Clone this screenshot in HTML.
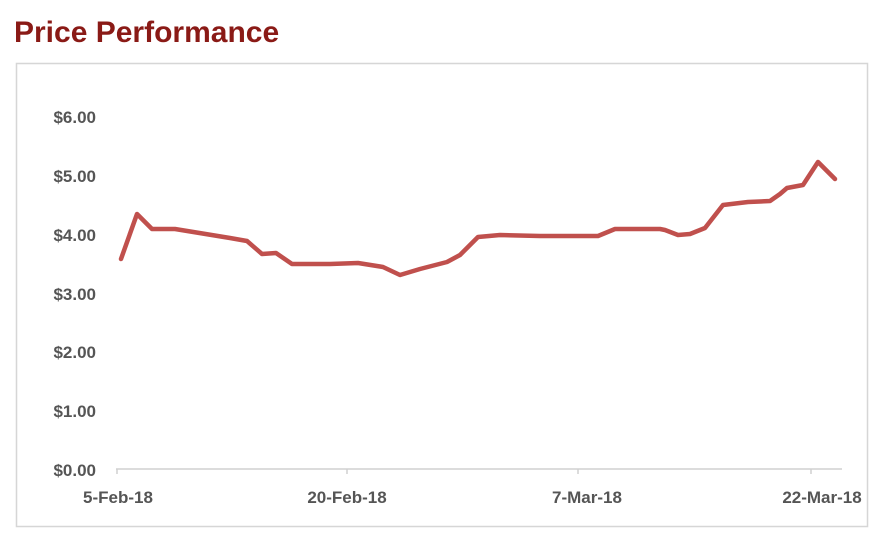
<!DOCTYPE html>
<html><head><style>
body{margin:0;background:#fff;width:896px;height:551px;overflow:hidden;font-family:"Liberation Sans",sans-serif}
</style></head><body>
<svg width="896" height="551" xmlns="http://www.w3.org/2000/svg">
<text x="14" y="42" font-size="30" font-weight="bold" fill="#8a1a16" font-family="Liberation Sans, sans-serif">Price Performance</text>
<rect x="16.5" y="63.5" width="851" height="463" fill="#fff" stroke="#d6d6d6" stroke-width="1.5"/>
<g font-size="17" font-weight="bold" fill="#555" font-family="Liberation Sans, sans-serif" text-anchor="end">
<text x="96" y="123">$6.00</text>
<text x="96" y="182">$5.00</text>
<text x="96" y="241">$4.00</text>
<text x="96" y="300">$3.00</text>
<text x="96" y="358">$2.00</text>
<text x="96" y="417">$1.00</text>
<text x="96" y="476">$0.00</text>
</g>
<line x1="116" y1="469" x2="842" y2="469" stroke="#d0d0d0" stroke-width="1.5"/>
<g stroke="#d0d0d0" stroke-width="1.5"><line x1="117" y1="469" x2="117" y2="474"/><line x1="347" y1="469" x2="347" y2="474"/><line x1="578" y1="469" x2="578" y2="474"/><line x1="811" y1="469" x2="811" y2="474"/></g>
<g font-size="17" font-weight="bold" fill="#555" font-family="Liberation Sans, sans-serif" text-anchor="middle">
<text x="118" y="503">5-Feb-18</text>
<text x="347" y="503">20-Feb-18</text>
<text x="587" y="503">7-Mar-18</text>
<text x="822" y="503">22-Mar-18</text>
</g>
<polyline fill="none" stroke="#c0504d" stroke-width="4.5" stroke-linejoin="round" stroke-linecap="round"
points="121,259 137,214 152,229 175,229 230,238 247,241 262,254 276,253 292,264 330,264 358,263 383,267 400,275 420,269 447,262 460,255 478,237 500,235 540,236 570,236 598,236 615,229 660,229 665,230 678,235 690,234 705,228 723,205 748,202 770,201 780,194 787,188 803,185 818,162 835,179"/>
</svg>
</body></html>
